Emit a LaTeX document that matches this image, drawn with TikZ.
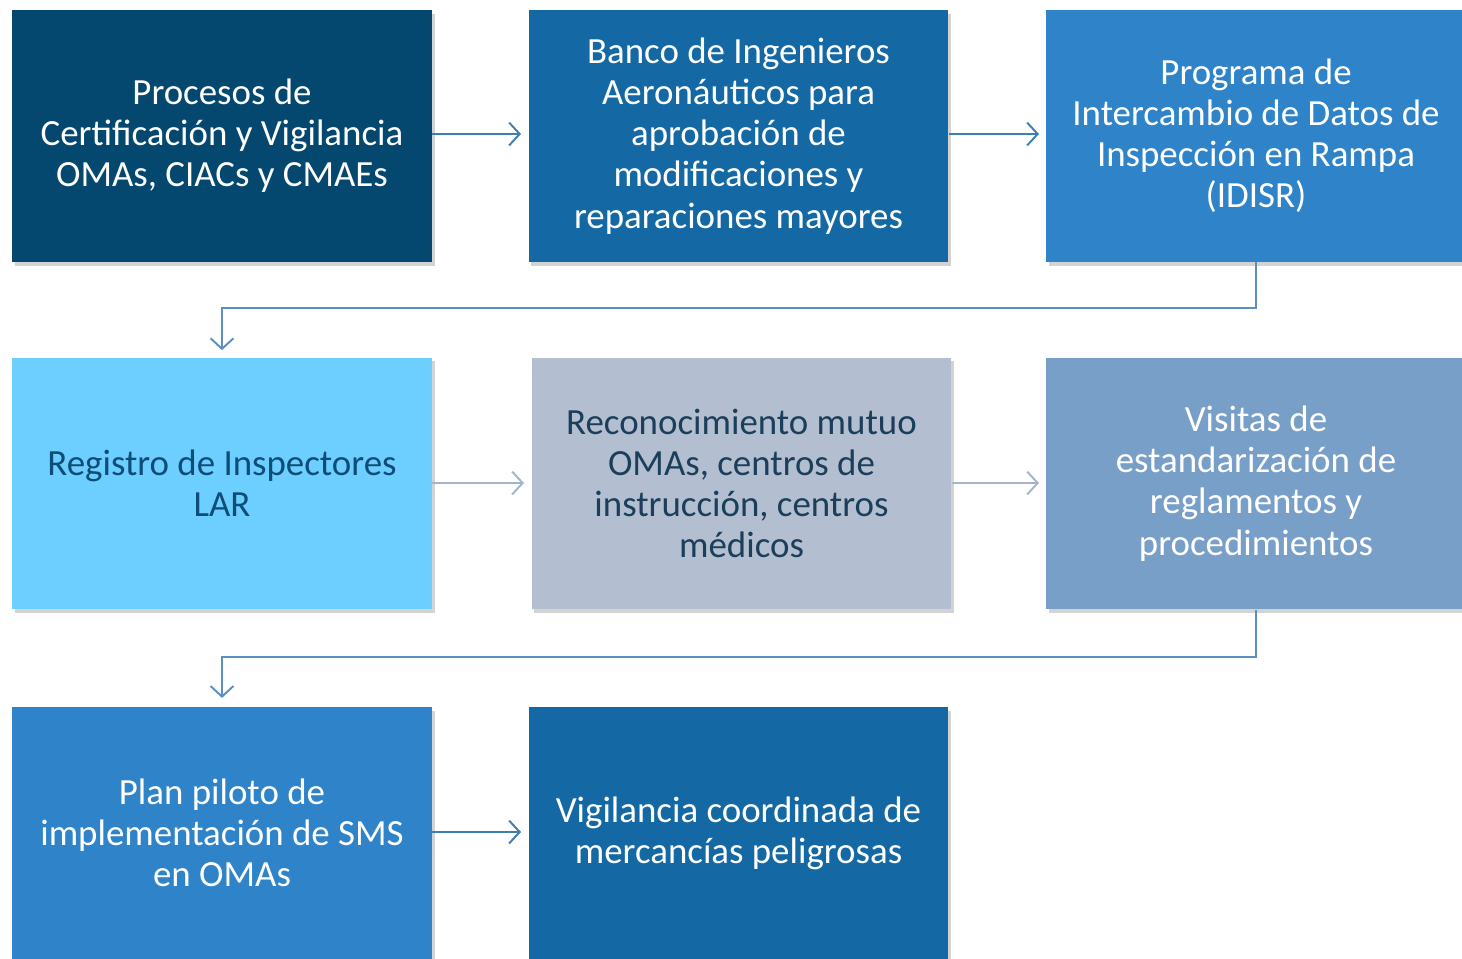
\documentclass[tikz,border=0pt]{standalone}
\usepackage{fontspec}
\setmainfont{Carlito}
\usetikzlibrary{arrows.meta,positioning,shadows}

\definecolor{navy}{HTML}{05486F}
\definecolor{midblue}{HTML}{1468A4}
\definecolor{brightblue}{HTML}{2E83C9}
\definecolor{skyblue}{HTML}{6DCFFF}
\definecolor{greyblue}{HTML}{B3BFD1}
\definecolor{steelblue}{HTML}{789FC8}
\definecolor{skytext}{HTML}{0D4D77}
\definecolor{greytext}{HTML}{1B3E5A}
\definecolor{arrowdark}{HTML}{3C7FB1}
\definecolor{arrowlink}{HTML}{5B8FC4}
\definecolor{arrowgrey}{HTML}{A3B4CC}

\tikzset{
  boxnode/.style={rectangle, minimum width=8.4cm, minimum height=5.04cm,
    align=center, text=white, inner sep=0pt,
    font=\fontsize{21}{23.4}\selectfont,
    drop shadow={shadow xshift=1.5pt, shadow yshift=-2pt, opacity=0.35}},
  flow/.style={line width=1.1pt, -{Straight Barb[length=6pt,width=13pt,line width=1.1pt]}},
}

\begin{document}
\begin{tikzpicture}[x=0.02cm,y=-0.02cm]
\useasboundingbox (0,0) rectangle (1462,958);

% first row
\node[boxnode, fill=navy] (proc) at (222,136) {Procesos de\\Certificación y Vigilancia\\OMAs, CIACs y CMAEs};
\node[boxnode, fill=midblue] (banco) at (738.5,136) {Banco de Ingenieros\\Aeronáuticos para\\aprobación de\\modificaciones y\\reparaciones mayores};
\node[boxnode, fill=brightblue] (idisr) at (1256,136) {Programa de\\Intercambio de Datos de\\Inspección en Rampa\\(IDISR)};

% second row
\node[boxnode, fill=skyblue, text=skytext] (regis) at (222,483.5) {Registro de Inspectores\\LAR};
\node[boxnode, fill=greyblue, text=greytext] (recon) at (741.5,483.5) {Reconocimiento mutuo\\OMAs, centros de\\instrucción, centros\\médicos};
\node[boxnode, fill=steelblue] (visit) at (1256,483.5) {Visitas de\\estandarización de\\reglamentos y\\procedimientos};

% third row
\node[boxnode, fill=brightblue] (plan) at (222,833) {Plan piloto de\\implementación de SMS\\en OMAs};
\node[boxnode, fill=midblue] (vigil) at (738.5,833) {Vigilancia coordinada de\\mercancías peligrosas};

\coordinate (tipA) at (521,134);
\coordinate (tipB) at (1039,134);
\coordinate (tipC) at (524,483);
\coordinate (tipD) at (1039,483);
\coordinate (tipE) at (521,832);

\draw[flow, arrowdark] (proc.east |- tipA) -- (tipA);
\draw[flow, arrowdark] (banco.east |- tipB) -- (tipB);
\draw[flow, arrowgrey] (regis.east |- tipC) -- (tipC);
\draw[flow, arrowgrey] (recon.east |- tipD) -- (tipD);
\draw[flow, arrowdark] (plan.east |- tipE) -- (tipE);

%% links between rows
\draw[flow, arrowlink] (idisr.south) -- ++(0,46) -| ([yshift=4pt]regis.north);
\draw[flow, arrowlink] (visit.south) -- ++(0,47) -| ([yshift=5pt]plan.north);
\end{tikzpicture}
\end{document}
